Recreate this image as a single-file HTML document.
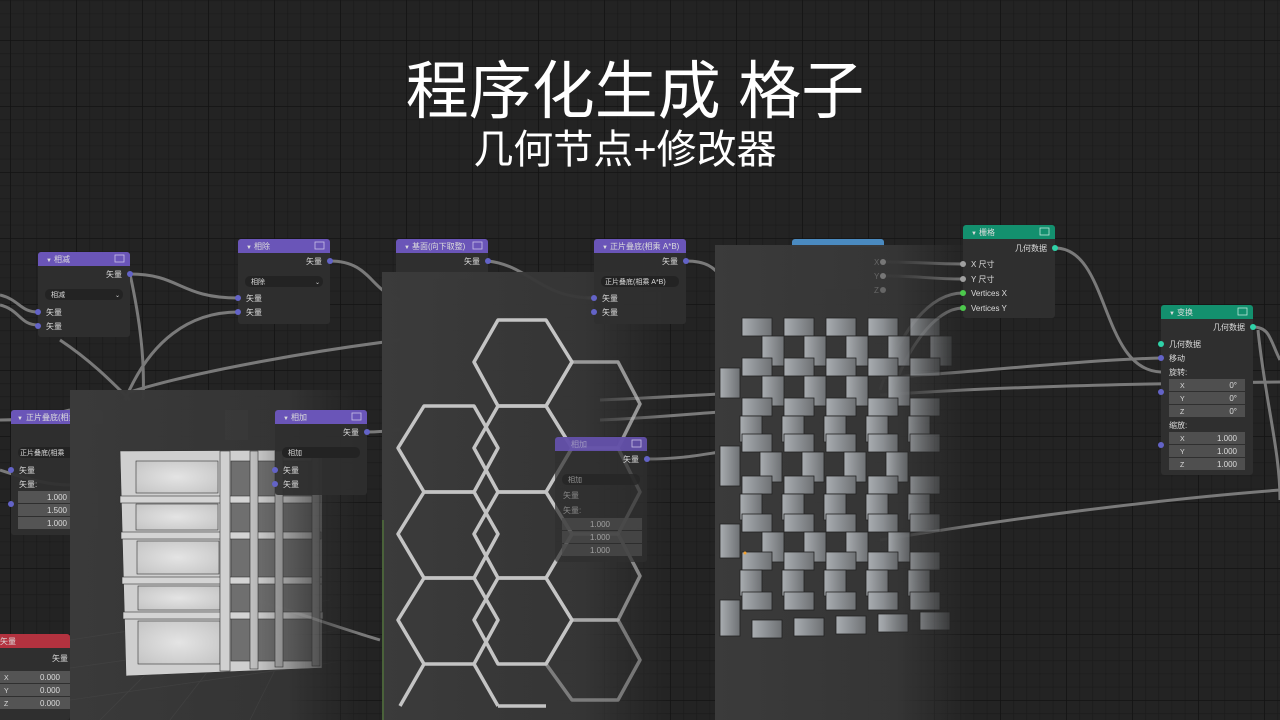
<!DOCTYPE html>
<html><head><meta charset="utf-8"><style>
html,body{margin:0;padding:0;background:#232323;}
svg{display:block}
text{font-family:"Liberation Sans","Noto Sans CJK SC",sans-serif;}
</style></head><body>
<svg width="1280" height="720" viewBox="0 0 1280 720" xmlns="http://www.w3.org/2000/svg">
<defs>
<pattern id="minor" x="10" y="13.6" width="13.2" height="13.2" patternUnits="userSpaceOnUse">
<rect width="13.2" height="13.2" fill="#232323"/><path d="M0 0H13.2M0 0V13.2" stroke="#1a1a1a" stroke-width="1.2"/></pattern>
<pattern id="major" x="10" y="40" width="66" height="66" patternUnits="userSpaceOnUse">
<path d="M0 0H66M0 0V66" stroke="#141414" stroke-width="1.6"/></pattern>
<linearGradient id="vp1" x1="0" y1="0" x2="1" y2="0"><stop offset="0" stop-color="#3a3a3a"/><stop offset="0.75" stop-color="#353535" stop-opacity="0.95"/><stop offset="1" stop-color="#303030" stop-opacity="0"/></linearGradient>
<linearGradient id="vp2" x1="0" y1="0" x2="1" y2="0"><stop offset="0" stop-color="#3b3b3b"/><stop offset="0.7" stop-color="#363636" stop-opacity="0.95"/><stop offset="1" stop-color="#303030" stop-opacity="0"/></linearGradient>
<linearGradient id="box" x1="0" y1="0" x2="1" y2="0"><stop offset="0" stop-color="#a9adb1"/><stop offset="1" stop-color="#6e7174"/></linearGradient>
<radialGradient id="pane" cx="0.5" cy="0.5" r="0.7"><stop offset="0" stop-color="#e4e4e4"/><stop offset="1" stop-color="#c4c4c4"/></radialGradient>
<linearGradient id="fade" x1="0" y1="0" x2="1" y2="0"><stop offset="0" stop-color="#fff" stop-opacity="1"/><stop offset="0.65" stop-color="#fff" stop-opacity="1"/><stop offset="1" stop-color="#fff" stop-opacity="0"/></linearGradient>
<mask id="mr" maskUnits="userSpaceOnUse"><rect x="715" y="245" width="260" height="475" fill="url(#fade)"/></mask>
<mask id="ml" maskUnits="userSpaceOnUse"><rect x="70" y="390" width="280" height="330" fill="url(#fade)"/></mask>
</defs>
<rect width="1280" height="720" fill="url(#minor)"/>
<rect width="1280" height="720" fill="url(#major)"/>

<g fill="none" stroke="#8a8a8a" stroke-width="3" opacity="0.85">
<path d="M130 274 C180 274 180 298 238 298"/>
<path d="M130 274 C140 320 145 360 143 400"/>
<path d="M0 295 C20 300 20 312 38 312"/>
<path d="M0 305 C20 310 20 325 38 325"/>
<path d="M238 312 C190 312 150 340 125 400"/>
<path d="M60 340 C90 360 110 380 130 400"/>
<path d="M130 392 C200 370 320 350 400 340"/>
<path d="M330 261 C370 261 370 290 400 300"/>
<path d="M488 261 C530 266 540 298 594 298"/>
<path d="M686 261 C710 261 715 270 725 280"/>
<path d="M0 420 C30 420 50 415 70 410"/>
<path d="M0 470 C30 480 50 485 70 485"/>
<path d="M367 432 C380 432 385 431 400 430"/>
<path d="M647 459 C680 459 700 455 720 452"/>
<path d="M883 262 C920 262 930 264 963 264"/>
<path d="M883 276 C920 276 930 279 963 279"/>
<path d="M963 293 C930 293 900 330 880 390"/>
<path d="M963 308 C935 308 905 350 890 400"/>
<path d="M1055 248 C1110 248 1100 370 1161 372"/>
<path d="M880 378 C980 372 1080 360 1161 358"/>
<path d="M880 395 C980 388 1100 384 1280 382"/>
<path d="M1253 327 C1270 327 1270 340 1280 360"/>
<path d="M1258 330 C1265 400 1280 450 1280 500"/>
<path d="M880 540 C1000 520 1150 500 1280 490"/>
<path d="M600 400 C650 398 680 396 720 394"/>
<path d="M600 420 C650 418 690 414 720 412"/>
<path d="M240 595 C290 610 330 625 380 640"/>
</g>

<g font-size="8" fill="#dcdcdc">
<g transform="translate(38,252)">
<rect width="92" height="85" rx="3" fill="#2f2f2f" opacity="0.95"/>
<path d="M0 3a3 3 0 0 1 3-3h86a3 3 0 0 1 3 3v11h-92z" fill="#6a55b8"/>
<text x="8" y="10" font-size="6">▼</text><text x="16" y="10">相减</text>
<rect x="77" y="3" width="9" height="7" fill="none" stroke="#c8c0e8" stroke-width="0.8"/>
<text x="84" y="25" text-anchor="end">矢量</text><circle cx="92" cy="22" r="3" fill="#6363c7"/>
<rect x="7" y="37" width="78" height="11" rx="5" fill="#232323"/><text x="13" y="45" font-size="7">相减</text><text x="77" y="45" font-size="6">⌄</text>
<circle cx="0" cy="60" r="3" fill="#6363c7"/><text x="8" y="63">矢量</text>
<circle cx="0" cy="74" r="3" fill="#6363c7"/><text x="8" y="77">矢量</text>
</g>
<g transform="translate(238,239)">
<rect width="92" height="85" rx="3" fill="#2f2f2f" opacity="0.95"/>
<path d="M0 3a3 3 0 0 1 3-3h86a3 3 0 0 1 3 3v11h-92z" fill="#6a55b8"/>
<text x="8" y="10" font-size="6">▼</text><text x="16" y="10">相除</text>
<rect x="77" y="3" width="9" height="7" fill="none" stroke="#c8c0e8" stroke-width="0.8"/>
<text x="84" y="25" text-anchor="end">矢量</text><circle cx="92" cy="22" r="3" fill="#6363c7"/>
<rect x="7" y="37" width="78" height="11" rx="5" fill="#232323"/><text x="13" y="45" font-size="7">相除</text><text x="77" y="45" font-size="6">⌄</text>
<circle cx="0" cy="59" r="3" fill="#6363c7"/><text x="8" y="62">矢量</text>
<circle cx="0" cy="73" r="3" fill="#6363c7"/><text x="8" y="76">矢量</text>
</g>
<g transform="translate(396,239)">
<rect width="92" height="40" rx="3" fill="#2f2f2f"/>
<path d="M0 3a3 3 0 0 1 3-3h86a3 3 0 0 1 3 3v11h-92z" fill="#6a55b8"/>
<text x="8" y="10" font-size="6">▼</text><text x="16" y="10">基面(向下取整)</text>
<rect x="77" y="3" width="9" height="7" fill="none" stroke="#c8c0e8" stroke-width="0.8"/>
<text x="84" y="25" text-anchor="end">矢量</text><circle cx="92" cy="22" r="3" fill="#6363c7"/>
</g>
<g transform="translate(792,239)">
<rect width="92" height="50" rx="3" fill="#2f2f2f"/>
<path d="M0 3a3 3 0 0 1 3-3h86a3 3 0 0 1 3 3v5h-92z" fill="#4a8ac0"/>
</g>
<g transform="translate(11,410)">
<rect width="92" height="125" rx="3" fill="#2f2f2f" opacity="0.95"/>
<path d="M0 3a3 3 0 0 1 3-3h86a3 3 0 0 1 3 3v11h-92z" fill="#6a55b8"/>
<text x="6" y="10" font-size="6">▼</text><text x="15" y="10">正片叠底(相乘</text>
<rect x="7" y="37" width="78" height="11" rx="5" fill="#232323"/><text x="9" y="45" font-size="7">正片叠底(相乘</text>
<circle cx="0" cy="60" r="3" fill="#6363c7"/><text x="8" y="63">矢量</text>
<text x="8" y="77">矢量:</text><circle cx="0" cy="94" r="3" fill="#6363c7"/>
<rect x="7" y="81" width="80" height="12" fill="#545454"/><text x="56" y="90" text-anchor="end">1.000</text>
<rect x="7" y="94" width="80" height="12" fill="#545454"/><text x="56" y="103" text-anchor="end">1.500</text>
<rect x="7" y="107" width="80" height="12" fill="#545454"/><text x="56" y="116" text-anchor="end">1.000</text>
</g>
<g transform="translate(-20,634)">
<rect width="90" height="86" rx="3" fill="#2f2f2f"/>
<path d="M0 3a3 3 0 0 1 3-3h84a3 3 0 0 1 3 3v11h-90z" fill="#b3323f"/>
<text x="20" y="10">矢量</text>
<text x="88" y="27" text-anchor="end">矢量</text>
<rect x="20" y="37" width="70" height="12" fill="#545454"/><text x="24" y="46" font-size="7">X</text><text x="80" y="46" text-anchor="end">0.000</text>
<rect x="20" y="50" width="70" height="12" fill="#545454"/><text x="24" y="59" font-size="7">Y</text><text x="80" y="59" text-anchor="end">0.000</text>
<rect x="20" y="63" width="70" height="12" fill="#545454"/><text x="24" y="72" font-size="7">Z</text><text x="80" y="72" text-anchor="end">0.000</text>
</g>
</g>

<rect x="70" y="390" width="290" height="330" fill="url(#vp1)"/>
<g mask="url(#ml)">
<g stroke="#444" stroke-width="0.8" fill="none" opacity="0.7">
<path d="M70 640 L330 600 M70 668 L340 630 M70 700 L350 660 M100 720 L200 620 M170 720 L240 630 M250 720 L290 640"/>
</g>
<g stroke="#333" stroke-width="0.6">
<polygon points="120,451 322,450 322,668 126,676" fill="#cfcfcf"/>
<rect x="136" y="461" width="82" height="32" fill="url(#pane)"/>
<rect x="136" y="504" width="82" height="26" fill="url(#pane)"/>
<rect x="137" y="541" width="82" height="33" fill="url(#pane)"/>
<rect x="138" y="586" width="82" height="24" fill="url(#pane)"/>
<rect x="138" y="621" width="82" height="43" fill="url(#pane)"/>
<rect x="231" y="461" width="85" height="200" fill="#6f6f6f"/>
<rect x="120" y="496" width="200" height="7" fill="#d4d4d4"/>
<rect x="121" y="532" width="200" height="7" fill="#d4d4d4"/>
<rect x="122" y="577" width="200" height="7" fill="#d4d4d4"/>
<rect x="123" y="612" width="200" height="7" fill="#d4d4d4"/>
<rect x="220" y="451" width="10" height="220" fill="#d0d0d0"/>
<rect x="250" y="451" width="8" height="218" fill="#bfbfbf"/>
<rect x="275" y="451" width="8" height="216" fill="#b8b8b8"/>
<rect x="312" y="451" width="8" height="215" fill="#aaa"/>
</g>
</g>

<rect x="382" y="272" width="290" height="448" fill="url(#vp2)"/>
<path d="M383 520 V720" stroke="#5a8a3a" stroke-width="1"/>
<g stroke="#c4c4c4" stroke-width="3.5" fill="none" stroke-linejoin="round">
<polygon points="498,320 546,320 572,362 546,406 498,406 474,362"/>
<polygon points="424,406 474,406 498,448 474,492 424,492 398,448"/>
<polygon points="498,406 546,406 572,448 546,492 498,492 474,448"/>
<polygon points="572,362 618,362 640,404 618,448 572,448 546,406" opacity="0.7"/>
<polygon points="424,492 474,492 498,534 474,578 424,578 398,534"/>
<polygon points="498,492 546,492 572,534 546,578 498,578 474,534"/>
<polygon points="572,448 618,448 640,492 618,534 572,534 546,492" opacity="0.6"/>
<polygon points="424,578 474,578 498,620 474,664 424,664 398,620"/>
<polygon points="498,578 546,578 572,620 546,664 498,664 474,620"/>
<polygon points="572,534 618,534 640,576 618,620 572,620 546,578" opacity="0.6"/>
<polygon points="572,620 618,620 640,660 618,700 572,700 546,664" opacity="0.5"/>
<path d="M474,664 L498,706 M424,664 L400,706 M498,706 L546,706" />
</g>

<g font-size="8" fill="#dcdcdc">
<g transform="translate(555,437)">
<rect width="92" height="125" rx="3" fill="#2f2f2f" opacity="0.7"/>
<path d="M0 3a3 3 0 0 1 3-3h86a3 3 0 0 1 3 3v11h-92z" fill="#6a55b8" opacity="0.85"/>
<text x="16" y="10" opacity="0.5">相加</text>
<rect x="77" y="3" width="9" height="7" fill="none" stroke="#c8c0e8" stroke-width="0.8"/>
<text x="84" y="25" text-anchor="end">矢量</text><circle cx="92" cy="22" r="3" fill="#6363c7"/>
<rect x="7" y="37" width="78" height="11" rx="5" fill="#262626" opacity="0.8"/><text x="13" y="45" font-size="7" opacity="0.6">相加</text>
<text x="8" y="61" opacity="0.5">矢量</text><text x="8" y="76" opacity="0.5">矢量:</text>
<rect x="7" y="81" width="80" height="12" fill="#4a4a4a" opacity="0.8"/><text x="55" y="90" text-anchor="end" opacity="0.6">1.000</text>
<rect x="7" y="94" width="80" height="12" fill="#4a4a4a" opacity="0.8"/><text x="55" y="103" text-anchor="end" opacity="0.6">1.000</text>
<rect x="7" y="107" width="80" height="12" fill="#4a4a4a" opacity="0.8"/><text x="55" y="116" text-anchor="end" opacity="0.6">1.000</text>
</g>
<g transform="translate(594,239)">
<rect width="92" height="85" rx="3" fill="#2f2f2f" opacity="0.95"/>
<path d="M0 3a3 3 0 0 1 3-3h86a3 3 0 0 1 3 3v11h-92z" fill="#6a55b8"/>
<text x="8" y="10" font-size="6">▼</text><text x="16" y="10">正片叠底(相乘 A*B)</text>
<text x="84" y="25" text-anchor="end">矢量</text><circle cx="92" cy="22" r="3" fill="#6363c7"/>
<rect x="7" y="37" width="78" height="11" rx="5" fill="#232323"/><text x="11" y="45" font-size="7">正片叠底(相乘 A*B)</text>
<circle cx="0" cy="59" r="3" fill="#6363c7"/><text x="8" y="62">矢量</text>
<circle cx="0" cy="73" r="3" fill="#6363c7"/><text x="8" y="76">矢量</text>
</g>
<g transform="translate(275,410)">
<rect width="92" height="85" rx="3" fill="#2f2f2f" opacity="0.92"/>
<path d="M0 3a3 3 0 0 1 3-3h86a3 3 0 0 1 3 3v11h-92z" fill="#6a55b8"/>
<text x="8" y="10" font-size="6">▼</text><text x="16" y="10">相加</text>
<rect x="77" y="3" width="9" height="7" fill="none" stroke="#c8c0e8" stroke-width="0.8"/>
<text x="84" y="25" text-anchor="end">矢量</text><circle cx="92" cy="22" r="3" fill="#6363c7"/>
<rect x="7" y="37" width="78" height="11" rx="5" fill="#232323"/><text x="13" y="45" font-size="7">相加</text>
<circle cx="0" cy="60" r="3" fill="#6363c7"/><text x="8" y="63">矢量</text>
<circle cx="0" cy="74" r="3" fill="#6363c7"/><text x="8" y="77">矢量</text>
</g>
<rect x="225" y="410" width="23" height="30" fill="#3a3a3a" opacity="0.7"/>
</g>

<rect x="715" y="245" width="260" height="475" fill="url(#vp2)"/>
<g mask="url(#mr)" stroke="#222" stroke-width="0.8">
<g fill="url(#box)">
<rect x="742" y="318" width="30" height="18"/><rect x="784" y="318" width="30" height="18"/><rect x="826" y="318" width="30" height="18"/><rect x="868" y="318" width="30" height="18"/><rect x="910" y="318" width="30" height="18"/>
<rect x="762" y="336" width="22" height="30"/><rect x="804" y="336" width="22" height="30"/><rect x="846" y="336" width="22" height="30"/><rect x="888" y="336" width="22" height="30"/><rect x="930" y="336" width="22" height="30"/>
<rect x="720" y="368" width="20" height="30"/>
<rect x="742" y="358" width="30" height="18"/><rect x="784" y="358" width="30" height="18"/><rect x="826" y="358" width="30" height="18"/><rect x="868" y="358" width="30" height="18"/><rect x="910" y="358" width="30" height="18"/>
<rect x="762" y="376" width="22" height="30"/><rect x="804" y="376" width="22" height="30"/><rect x="846" y="376" width="22" height="30"/><rect x="888" y="376" width="22" height="30"/>
<rect x="742" y="398" width="30" height="18"/><rect x="784" y="398" width="30" height="18"/><rect x="826" y="398" width="30" height="18"/><rect x="868" y="398" width="30" height="18"/><rect x="910" y="398" width="30" height="18"/>
<rect x="740" y="416" width="22" height="26"/><rect x="782" y="416" width="22" height="26"/><rect x="824" y="416" width="22" height="26"/><rect x="866" y="416" width="22" height="26"/><rect x="908" y="416" width="22" height="26"/>
<rect x="742" y="434" width="30" height="18"/><rect x="784" y="434" width="30" height="18"/><rect x="826" y="434" width="30" height="18"/><rect x="868" y="434" width="30" height="18"/><rect x="910" y="434" width="30" height="18"/>
<rect x="720" y="446" width="20" height="40"/>
<rect x="760" y="452" width="22" height="30"/><rect x="802" y="452" width="22" height="30"/><rect x="844" y="452" width="22" height="30"/><rect x="886" y="452" width="22" height="30"/>
<rect x="742" y="476" width="30" height="18"/><rect x="784" y="476" width="30" height="18"/><rect x="826" y="476" width="30" height="18"/><rect x="868" y="476" width="30" height="18"/><rect x="910" y="476" width="30" height="18"/>
<rect x="740" y="494" width="22" height="26"/><rect x="782" y="494" width="22" height="26"/><rect x="824" y="494" width="22" height="26"/><rect x="866" y="494" width="22" height="26"/><rect x="908" y="494" width="22" height="26"/>
<rect x="742" y="514" width="30" height="18"/><rect x="784" y="514" width="30" height="18"/><rect x="826" y="514" width="30" height="18"/><rect x="868" y="514" width="30" height="18"/><rect x="910" y="514" width="30" height="18"/>
<rect x="720" y="524" width="20" height="34"/>
<rect x="762" y="532" width="22" height="30"/><rect x="804" y="532" width="22" height="30"/><rect x="846" y="532" width="22" height="30"/><rect x="888" y="532" width="22" height="30"/>
<rect x="742" y="552" width="30" height="18"/><rect x="784" y="552" width="30" height="18"/><rect x="826" y="552" width="30" height="18"/><rect x="868" y="552" width="30" height="18"/><rect x="910" y="552" width="30" height="18"/>
<rect x="740" y="570" width="22" height="26"/><rect x="782" y="570" width="22" height="26"/><rect x="824" y="570" width="22" height="26"/><rect x="866" y="570" width="22" height="26"/><rect x="908" y="570" width="22" height="26"/>
<rect x="720" y="600" width="20" height="36"/>
<rect x="742" y="592" width="30" height="18"/><rect x="784" y="592" width="30" height="18"/><rect x="826" y="592" width="30" height="18"/><rect x="868" y="592" width="30" height="18"/><rect x="910" y="592" width="30" height="18"/>
<rect x="752" y="620" width="30" height="18"/><rect x="794" y="618" width="30" height="18"/><rect x="836" y="616" width="30" height="18"/><rect x="878" y="614" width="30" height="18"/><rect x="920" y="612" width="30" height="18"/>
</g>
</g>
<circle cx="745" cy="553" r="1.5" fill="#f0a030"/>

<g font-size="8" fill="#dcdcdc">
<g transform="translate(963,225)">
<rect width="92" height="93" rx="3" fill="#2f2f2f"/>
<path d="M0 3a3 3 0 0 1 3-3h86a3 3 0 0 1 3 3v11h-92z" fill="#13906e"/>
<text x="8" y="10" font-size="6">▼</text><text x="16" y="10">栅格</text>
<rect x="77" y="3" width="9" height="7" fill="none" stroke="#bde8da" stroke-width="0.8"/>
<text x="84" y="26" text-anchor="end">几何数据</text><circle cx="92" cy="23" r="3" fill="#2fd2a8"/>
<circle cx="0" cy="39" r="3" fill="#a0a0a0"/><text x="8" y="42">X 尺寸</text>
<circle cx="0" cy="54" r="3" fill="#a0a0a0"/><text x="8" y="57">Y 尺寸</text>
<circle cx="0" cy="68" r="3" fill="#4cc84c"/><text x="8" y="71">Vertices X</text>
<circle cx="0" cy="83" r="3" fill="#4cc84c"/><text x="8" y="86">Vertices Y</text>
</g>
<g transform="translate(1161,305)">
<rect width="92" height="170" rx="3" fill="#2f2f2f"/>
<path d="M0 3a3 3 0 0 1 3-3h86a3 3 0 0 1 3 3v11h-92z" fill="#13906e"/>
<text x="8" y="10" font-size="6">▼</text><text x="16" y="10">变换</text>
<rect x="77" y="3" width="9" height="7" fill="none" stroke="#bde8da" stroke-width="0.8"/>
<text x="84" y="25" text-anchor="end">几何数据</text><circle cx="92" cy="22" r="3" fill="#2fd2a8"/>
<circle cx="0" cy="39" r="3" fill="#2fd2a8"/><text x="8" y="42">几何数据</text>
<circle cx="0" cy="53" r="3" fill="#6363c7"/><text x="8" y="56">移动</text>
<text x="8" y="70">旋转:</text><circle cx="0" cy="87" r="3" fill="#6363c7"/>
<rect x="8" y="74" width="76" height="12" fill="#4f4f4f"/><text x="19" y="83" font-size="7">X</text><text x="76" y="83" text-anchor="end">0°</text>
<rect x="8" y="87" width="76" height="12" fill="#4f4f4f"/><text x="19" y="96" font-size="7">Y</text><text x="76" y="96" text-anchor="end">0°</text>
<rect x="8" y="100" width="76" height="12" fill="#4f4f4f"/><text x="19" y="109" font-size="7">Z</text><text x="76" y="109" text-anchor="end">0°</text>
<text x="8" y="123">缩放:</text><circle cx="0" cy="140" r="3" fill="#6363c7"/>
<rect x="8" y="127" width="76" height="12" fill="#4f4f4f"/><text x="19" y="136" font-size="7">X</text><text x="76" y="136" text-anchor="end">1.000</text>
<rect x="8" y="140" width="76" height="12" fill="#4f4f4f"/><text x="19" y="149" font-size="7">Y</text><text x="76" y="149" text-anchor="end">1.000</text>
<rect x="8" y="153" width="76" height="12" fill="#4f4f4f"/><text x="19" y="162" font-size="7">Z</text><text x="76" y="162" text-anchor="end">1.000</text>
</g>
<text x="874" y="265" fill="#666" font-size="8">X</text><circle cx="883" cy="262" r="3" fill="#777"/>
<text x="874" y="279" fill="#666" font-size="8">Y</text><circle cx="883" cy="276" r="3" fill="#777"/>
<text x="874" y="293" fill="#666" font-size="8">Z</text><circle cx="883" cy="290" r="3" fill="#666"/>
</g>

<text x="635" y="113" text-anchor="middle" font-size="63" fill="#ffffff">程序化生成 格子</text>
<text x="625" y="163" text-anchor="middle" font-size="40" fill="#ffffff">几何节点+修改器</text>
</svg>
</body></html>
